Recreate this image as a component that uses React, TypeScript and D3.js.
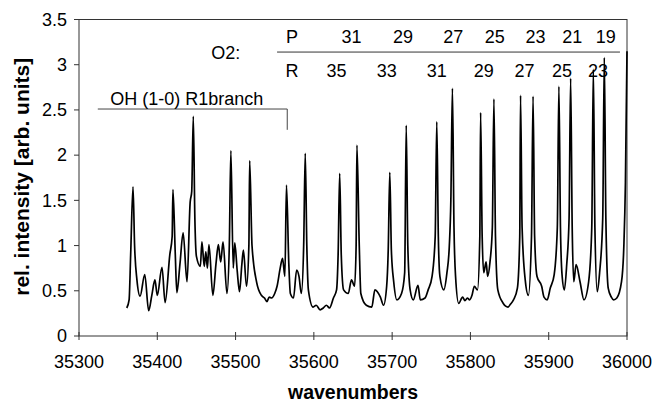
import React, { useEffect, useRef } from "react";
import * as d3 from "d3";

// spectrum (wavenumber / relative intensity)
const wavenumbers = [
  35361, 35364, 35366, 35369, 35371, 35374, 35378, 35384, 35389, 35393, 35397, 35400,
  35406, 35410, 35416, 35419, 35420, 35423, 35425, 35429, 35433, 35438, 35442, 35444,
  35446, 35448, 35450, 35455, 35457, 35460, 35462, 35464, 35466, 35471, 35475, 35478,
  35481, 35484, 35489, 35492, 35494, 35497, 35499, 35502, 35505, 35508, 35510, 35514,
  35517, 35518, 35521, 35527, 35533, 35537, 35540, 35543, 35546, 35550, 35553, 35557, 35560, 35563, 35565,
  35568, 35570, 35574, 35578, 35581, 35584, 35587, 35589, 35591, 35593, 35599, 35603, 35608,
  35612, 35616, 35620, 35625, 35629, 35631, 35633, 35635, 35638, 35644, 35648, 35652, 35654, 35655,
  35658, 35660, 35667, 35674, 35678, 35685, 35689, 35693, 35695, 35697, 35699, 35702,
  35706, 35712, 35716, 35718, 35720, 35723, 35727, 35733, 35736, 35742, 35746, 35751,
  35755, 35757, 35759, 35761, 35766, 35770, 35773, 35775, 35777, 35779, 35781, 35785,
  35790, 35793, 35796, 35799, 35802, 35805, 35809, 35812, 35813, 35815, 35817, 35820, 35822, 35825,
  35828, 35830, 35832, 35835, 35842, 35845, 35848, 35851, 35855, 35860, 35863, 35864, 35866, 35870,
  35874, 35878, 35880, 35882, 35885, 35891, 35894, 35898, 35902, 35907, 35911, 35913, 35915,
  35917, 35920, 35923, 35926, 35928, 35930, 35932, 35935, 35940, 35945, 35951, 35955,
  35957, 35959, 35962, 35965, 35969, 35971, 35973, 35976, 35980, 35983, 35987, 35993, 35996,
  35998, 36000,
];
const intensity = [
  0.31, 0.4, 0.9, 1.65, 1.0, 0.62, 0.44, 0.68, 0.28, 0.45, 0.62, 0.45,
  0.76, 0.37, 0.9, 1.1, 1.62, 0.9, 0.48, 0.8, 1.14, 0.6, 1.48, 1.6,
  2.43, 1.3, 0.88, 0.77, 1.04, 0.77, 0.93, 0.75, 1.01, 0.45, 0.8, 1.01,
  0.82, 1.04, 0.47, 1.0, 2.05, 0.75, 1.03, 0.73, 0.49, 0.79, 0.95, 0.55,
  1.0, 1.94, 1.0, 0.59, 0.45, 0.42, 0.38, 0.43, 0.42, 0.47, 0.55, 0.75, 0.86, 0.66, 1.67,
  0.8, 0.47, 0.42, 0.73, 0.66, 0.47, 1.0, 2.02, 1.0, 0.51, 0.32, 0.34, 0.29,
  0.31, 0.34, 0.31, 0.42, 0.51, 0.9, 1.8, 0.9, 0.51, 0.47, 0.62, 0.55, 1.0, 2.11,
  1.0, 0.47, 0.34, 0.32, 0.51, 0.43, 0.34, 0.55, 0.95, 1.81, 0.95, 0.6,
  0.4, 0.47, 0.7, 2.33, 1.0, 0.51, 0.4, 0.56, 0.4, 0.42, 0.51, 0.66,
  1.1, 2.37, 1.1, 0.66, 0.51, 0.7, 0.99, 1.5, 2.74, 1.2, 0.66, 0.36,
  0.43, 0.39, 0.42, 0.4, 0.45, 0.55, 0.51, 1.1, 2.47, 1.1, 0.7, 0.82, 0.66, 0.82,
  1.2, 2.62, 1.1, 0.51, 0.36, 0.33, 0.32, 0.35, 0.4, 0.53, 1.1, 2.66, 1.2, 0.62,
  0.45, 1.1, 2.65, 1.1, 0.66, 0.55, 0.43, 0.4, 0.53, 0.68, 1.2, 2.76, 1.2,
  0.68, 0.51, 0.79, 1.3, 2.85, 1.2, 0.6, 0.79, 0.6, 0.4, 0.6, 1.2,
  2.95, 1.2, 0.49, 0.7, 1.3, 3.08, 1.3, 0.53, 0.43, 0.4, 0.42, 0.6, 1.0,
  1.7, 3.15,
];

const xTicks = [35300, 35400, 35500, 35600, 35700, 35800, 35900, 36000];
const yTicks = [0, 0.5, 1, 1.5, 2, 2.5, 3, 3.5];

// O2 line labels (position in wavenumbers)
const pLabels = ["31", "29", "27", "25", "23", "21", "19"];
const pPos = [35648, 35714, 35778, 35831, 35883, 35930, 35973];
const rLabels = ["35", "33", "31", "29", "27", "25", "23"];
const rPos = [35629, 35693, 35757, 35817, 35869, 35917, 35963];

const W = 653, H = 404;
const margin = { top: 19.5, right: 26, bottom: 68, left: 79 };

export default function App() {
  const ref = useRef<SVGSVGElement>(null);

  useEffect(() => {
    const svg = d3.select(ref.current);
    svg.selectAll("*").remove();

    const x = d3.scaleLinear().domain([35300, 36000]).range([margin.left, W - margin.right]);
    const y = d3.scaleLinear().domain([0, 3.5]).range([H - margin.bottom, margin.top]);
    const font = "'Liberation Sans', Arial, sans-serif";

    // frame
    svg.append("rect")
      .attr("x", x(35300)).attr("y", y(3.5))
      .attr("width", x(36000) - x(35300)).attr("height", y(0) - y(3.5))
      .attr("fill", "none").attr("stroke", "#333").attr("stroke-width", 1);

    // y axis ticks
    const yg = svg.append("g");
    yTicks.forEach(t => {
      yg.append("line").attr("x1", x(35300) - 5).attr("x2", x(35300))
        .attr("y1", y(t)).attr("y2", y(t)).attr("stroke", "#333");
      yg.append("text").attr("x", x(35300) - 12).attr("y", y(t)).attr("dy", "0.35em")
        .attr("text-anchor", "end").attr("font-family", font).attr("font-size", 18)
        .text(String(t));
    });

    // x axis ticks
    const xg = svg.append("g");
    xTicks.forEach(t => {
      xg.append("line").attr("x1", x(t)).attr("x2", x(t))
        .attr("y1", y(0) - 4).attr("y2", y(0) + 4).attr("stroke", "#333");
      xg.append("text").attr("x", x(t)).attr("y", y(0) + 32)
        .attr("text-anchor", "middle").attr("font-family", font).attr("font-size", 18)
        .text(String(t));
    });

    // axis titles
    svg.append("text").attr("x", (x(35300) + x(36000)) / 2).attr("y", 399)
      .attr("text-anchor", "middle").attr("font-family", font).attr("font-size", 19.5)
      .attr("font-weight", "bold").text("wavenumbers");
    svg.append("text").attr("transform", `translate(29,${(y(0) + y(3.5)) / 2 - 1}) rotate(-90)`)
      .attr("text-anchor", "middle").attr("font-family", font).attr("font-size", 21)
      .attr("font-weight", "bold").text("rel. intensity [arb. units]");

    // spectrum
    const pts: [number, number][] = wavenumbers.map((w, i) => [w, intensity[i]]);
    const line = d3.line<[number, number]>().x(d => x(d[0])).y(d => y(d[1]))
      .curve(d3.curveMonotoneX);
    svg.append("path").datum(pts).attr("d", line)
      .attr("fill", "none").attr("stroke", "#000").attr("stroke-width", 1.7)
      .attr("stroke-linejoin", "round");

    // OH bracket
    svg.append("path")
      .attr("d", `M${x(35324)},${y(2.51)}H${x(35566)}V${y(2.28)}`)
      .attr("fill", "none").attr("stroke", "#444").attr("stroke-width", 1);
    svg.append("text").attr("x", x(35340)).attr("y", y(2.56))
      .attr("font-family", font).attr("font-size", 18).text("OH (1-0) R1branch");

    // O2 P / R labels
    svg.append("text").attr("x", x(35469)).attr("y", y(3.06))
      .attr("font-family", font).attr("font-size", 18).text("O2:");
    svg.append("line").attr("x1", x(35553)).attr("x2", x(35991))
      .attr("y1", y(3.14)).attr("y2", y(3.14)).attr("stroke", "#333");
    svg.append("text").attr("x", x(35572)).attr("y", y(3.24)).attr("text-anchor", "middle")
      .attr("font-family", font).attr("font-size", 18).text("P");
    svg.append("text").attr("x", x(35572)).attr("y", y(2.86)).attr("text-anchor", "middle")
      .attr("font-family", font).attr("font-size", 18).text("R");
    pLabels.forEach((l, i) => {
      svg.append("text").attr("x", x(pPos[i])).attr("y", y(3.24)).attr("text-anchor", "middle")
        .attr("font-family", font).attr("font-size", 18).text(l);
    });
    rLabels.forEach((l, i) => {
      svg.append("text").attr("x", x(rPos[i])).attr("y", y(2.86)).attr("text-anchor", "middle")
        .attr("font-family", font).attr("font-size", 18).text(l);
    });
  }, []);

  return (
    <svg ref={ref} width={W} height={H}
      style={{ position: "absolute", left: 0, top: 0, background: "#fff" }} />
  );
}
